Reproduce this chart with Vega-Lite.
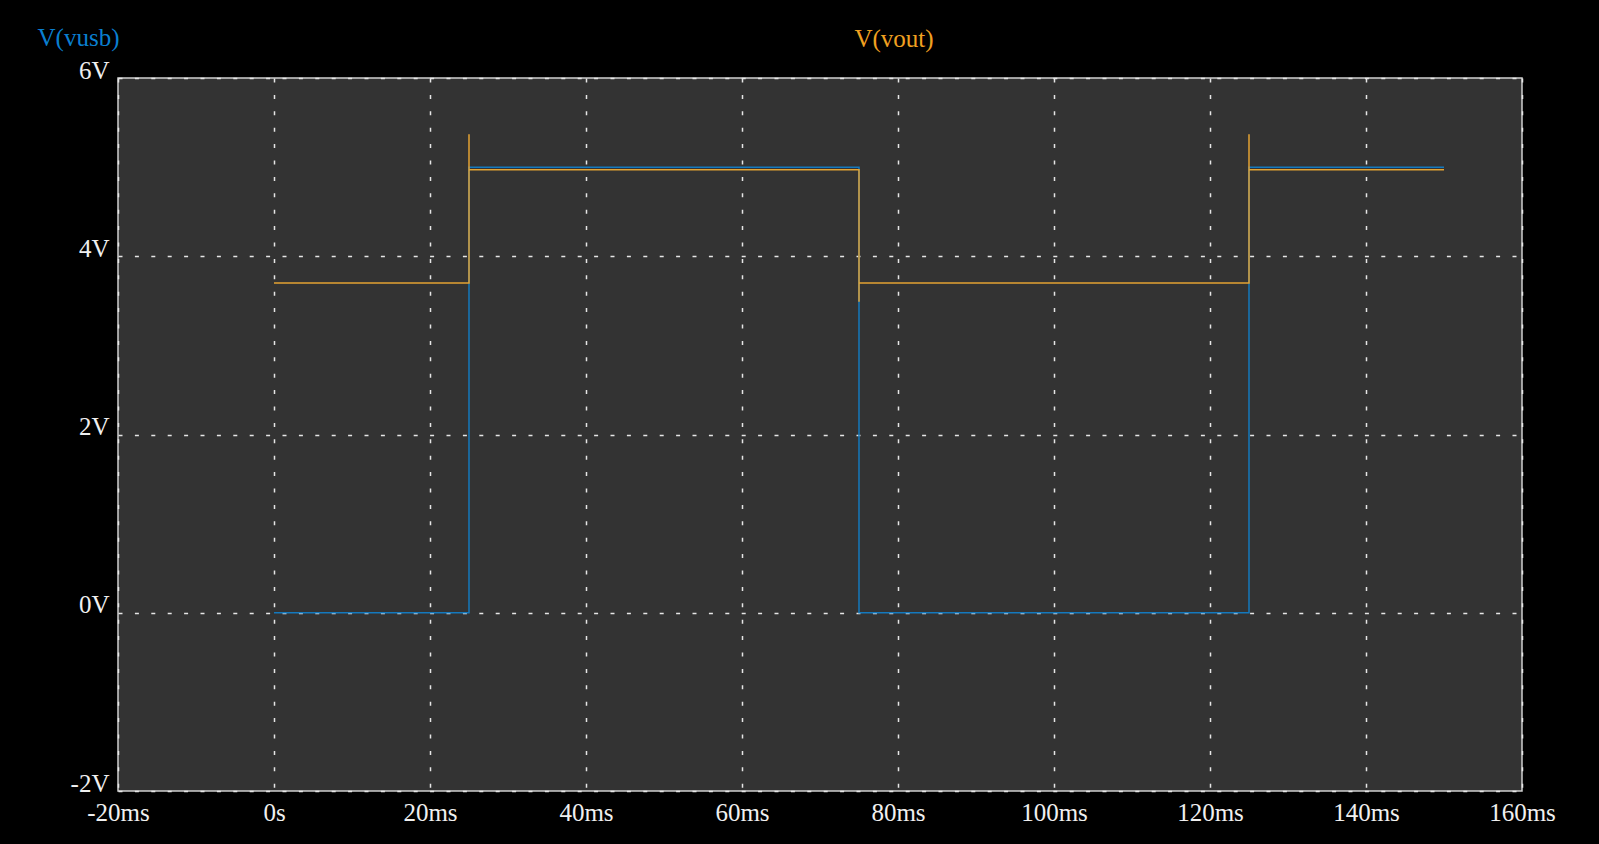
{
  "$schema": "https://vega.github.io/schema/vega-lite/v6.json",
  "width": 1404,
  "height": 713,
  "autosize": {"type": "none"},
  "padding": {"left": 118, "top": 78, "right": 77, "bottom": 53},
  "background": "#000000",
  "title": {
    "text": "V(vout)",
    "color": "#f0a020",
    "font": "Liberation Serif",
    "fontSize": 25,
    "fontWeight": "normal",
    "anchor": "middle",
    "frame": "group",
    "dx": 74,
    "baseline": "alphabetic",
    "offset": -47
  },
  "config": {
    "view": {"fill": "#333333", "stroke": "#d0d0d0", "strokeWidth": 1.5},
    "axis": {
      "labelFont": "Liberation Serif",
      "labelFontSize": 25,
      "labelColor": "#f0f0f0",
      "grid": true,
      "gridColor": "#e6e6e6",
      "gridDash": [4, 12.4],
      "gridWidth": 1.5,
      "gridOpacity": 1,
      "ticks": false,
      "domain": false
    }
  },
  "datasets": {
    "traces": [
      {"trace": "V(vusb)", "idx": 0, "t": 0, "v": 0},
      {"trace": "V(vusb)", "idx": 1, "t": 25, "v": 0},
      {"trace": "V(vusb)", "idx": 2, "t": 25, "v": 5.0},
      {"trace": "V(vusb)", "idx": 3, "t": 75, "v": 5.0},
      {"trace": "V(vusb)", "idx": 4, "t": 75, "v": 0},
      {"trace": "V(vusb)", "idx": 5, "t": 125, "v": 0},
      {"trace": "V(vusb)", "idx": 6, "t": 125, "v": 5.0},
      {"trace": "V(vusb)", "idx": 7, "t": 150, "v": 5.0},
      {"trace": "V(vout)", "idx": 0, "t": 0, "v": 3.70},
      {"trace": "V(vout)", "idx": 1, "t": 25, "v": 3.70},
      {"trace": "V(vout)", "idx": 2, "t": 25, "v": 5.37},
      {"trace": "V(vout)", "idx": 3, "t": 25, "v": 4.97},
      {"trace": "V(vout)", "idx": 4, "t": 75, "v": 4.97},
      {"trace": "V(vout)", "idx": 5, "t": 75, "v": 3.49},
      {"trace": "V(vout)", "idx": 6, "t": 75, "v": 3.70},
      {"trace": "V(vout)", "idx": 7, "t": 125, "v": 3.70},
      {"trace": "V(vout)", "idx": 8, "t": 125, "v": 5.37},
      {"trace": "V(vout)", "idx": 9, "t": 125, "v": 4.97},
      {"trace": "V(vout)", "idx": 10, "t": 150, "v": 4.97}
    ]
  },
  "data": {"name": "traces"},
  "mark": {"type": "line", "strokeWidth": 1.5, "clip": true},
  "encoding": {
    "x": {
      "field": "t",
      "type": "quantitative",
      "scale": {"domain": [-20, 160], "nice": false, "zero": false},
      "axis": {
        "values": [-20, 0, 20, 40, 60, 80, 100, 120, 140, 160],
        "labelExpr": "datum.value == 0 ? '0s' : datum.value + 'ms'",
        "labelBaseline": "alphabetic",
        "labelPadding": 29,
        "labelFlush": false,
        "labelOverlap": false,
        "title": null
      }
    },
    "y": {
      "field": "v",
      "type": "quantitative",
      "scale": {"domain": [-2, 6], "nice": false, "zero": false},
      "axis": {
        "values": [-2, 0, 2, 4, 6],
        "labelExpr": "datum.value + 'V'",
        "labelBaseline": "alphabetic",
        "labelPadding": 9,
        "labelFlush": false,
        "labelOverlap": false,
        "title": "V(vusb)",
        "titleAngle": 0,
        "titleX": -40,
        "titleY": -33,
        "titleAlign": "center",
        "titleBaseline": "alphabetic",
        "titleFont": "Liberation Serif",
        "titleFontSize": 25,
        "titleFontWeight": "normal",
        "titleColor": "#0a7fd0"
      }
    },
    "color": {
      "field": "trace",
      "type": "nominal",
      "scale": {"domain": ["V(vusb)", "V(vout)"], "range": ["#1479bd", "#e4a333"]},
      "legend": null
    },
    "order": {"field": "idx", "type": "quantitative"}
  }
}
